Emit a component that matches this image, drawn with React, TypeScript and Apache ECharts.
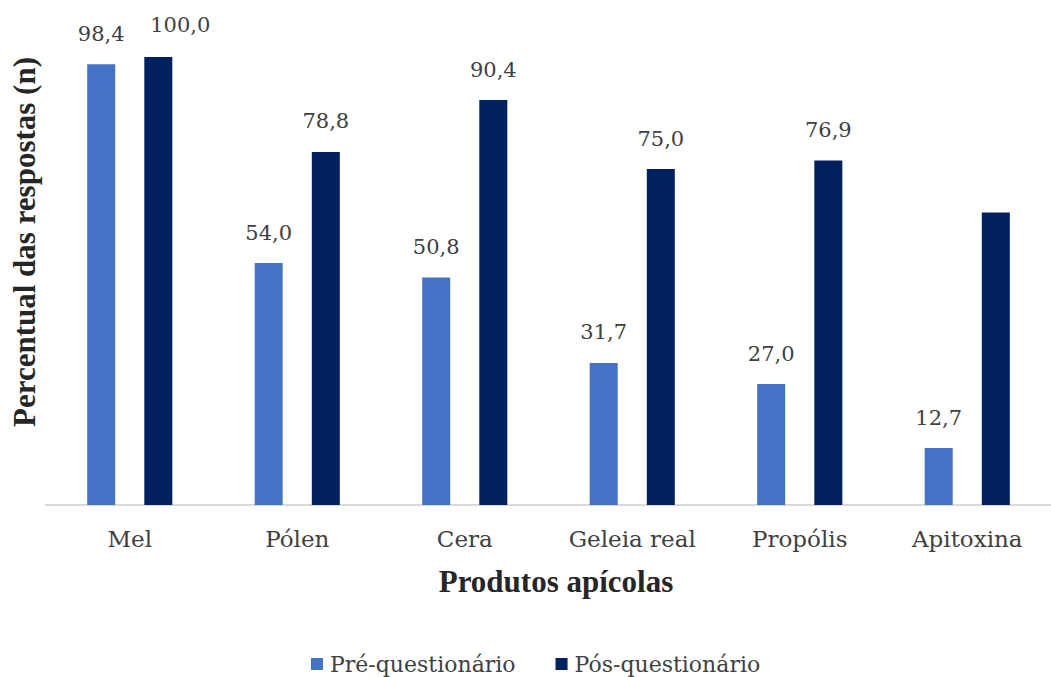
import React, { useEffect, useRef } from "react";
import * as echarts from "echarts";

const categories = ["Mel", "Pólen", "Cera", "Geleia real", "Propólis", "Apitoxina"];
const preValues = [98.4, 54.0, 50.8, 31.7, 27.0, 12.7];
const postValues = [100.0, 78.8, 90.4, 75.0, 76.9, 65.3];
const postLabelShown = [true, true, true, true, true, false];
const seriesNames = ["Pré-questionário", "Pós-questionário"];
const xTitle = "Produtos apícolas";
const yTitle = "Percentual das respostas (n)";

const FONT_REG = "DejaVu Serif";
const FONT_BOLD = "Liberation Serif";

export default function App() {
  const ref = useRef<HTMLDivElement>(null);
  useEffect(() => {
    if (!ref.current) return;
    const chart = echarts.init(ref.current, null, { renderer: "svg" });
    const fmt = (p: any) => Number(p.value).toFixed(1).replace(".", ",");
    const labelStyle = {
      show: true,
      position: "top",
      distance: 20,
      fontFamily: FONT_REG,
      fontWeight: "normal",
      fontSize: 21,
      color: "#404040",
      formatter: fmt,
    };
    chart.setOption({
      animation: false,
      backgroundColor: "#ffffff",
      grid: { left: 46, top: 57, width: 1020, height: 448, containLabel: false },
      xAxis: {
        type: "category",
        data: categories,
        axisLine: { show: true, lineStyle: { color: "#d9d9d9", width: 2 } },
        axisTick: { show: false },
        axisLabel: {
          fontFamily: FONT_REG,
          fontSize: 23,
          color: "#404040",
          margin: 22,
          interval: 0,
        },
      },
      yAxis: {
        type: "value",
        min: 0,
        max: 100,
        show: false,
        splitLine: { show: false },
      },
      legend: {
        left: 311,
        top: 653,
        padding: 0,
        itemWidth: 12,
        itemHeight: 12,
        itemGap: 40,
        icon: "rect",
        textStyle: { fontFamily: FONT_REG, fontSize: 22, color: "#404040", padding: [0, 0, 0, 2] },
        data: seriesNames,
      },
      graphic: [
        {
          type: "text",
          x: 556,
          y: 581,
          style: {
            text: xTitle,
            fontFamily: FONT_BOLD,
            fontSize: 31,
            fontWeight: "bold",
            fill: "#262626",
            textAlign: "center",
            textVerticalAlign: "middle",
          },
        },
        {
          type: "text",
          x: 24,
          y: 242,
          rotation: Math.PI / 2,
          style: {
            text: yTitle,
            fontFamily: FONT_BOLD,
            fontSize: 31,
            fontWeight: "bold",
            fill: "#262626",
            textAlign: "center",
            textVerticalAlign: "middle",
          },
        },
      ],
      series: [
        {
          name: seriesNames[0],
          type: "bar",
          barWidth: 28,
          barGap: "104%",
          itemStyle: { color: "#4472C4" },
          label: labelStyle,
          data: preValues,
        },
        {
          name: seriesNames[1],
          type: "bar",
          barWidth: 28,
          itemStyle: { color: "#002060" },
          label: labelStyle,
          data: postValues.map((v, i) => ({
            value: v,
            label:
              i === 0
                ? { show: postLabelShown[i], offset: [22, -2] }
                : { show: postLabelShown[i] },
          })),
        },
      ],
    });
    return () => chart.dispose();
  }, []);
  return (
    <div
      ref={ref}
      style={{ position: "fixed", left: 0, top: 0, width: 1051, height: 677 }}
    />
  );
}
